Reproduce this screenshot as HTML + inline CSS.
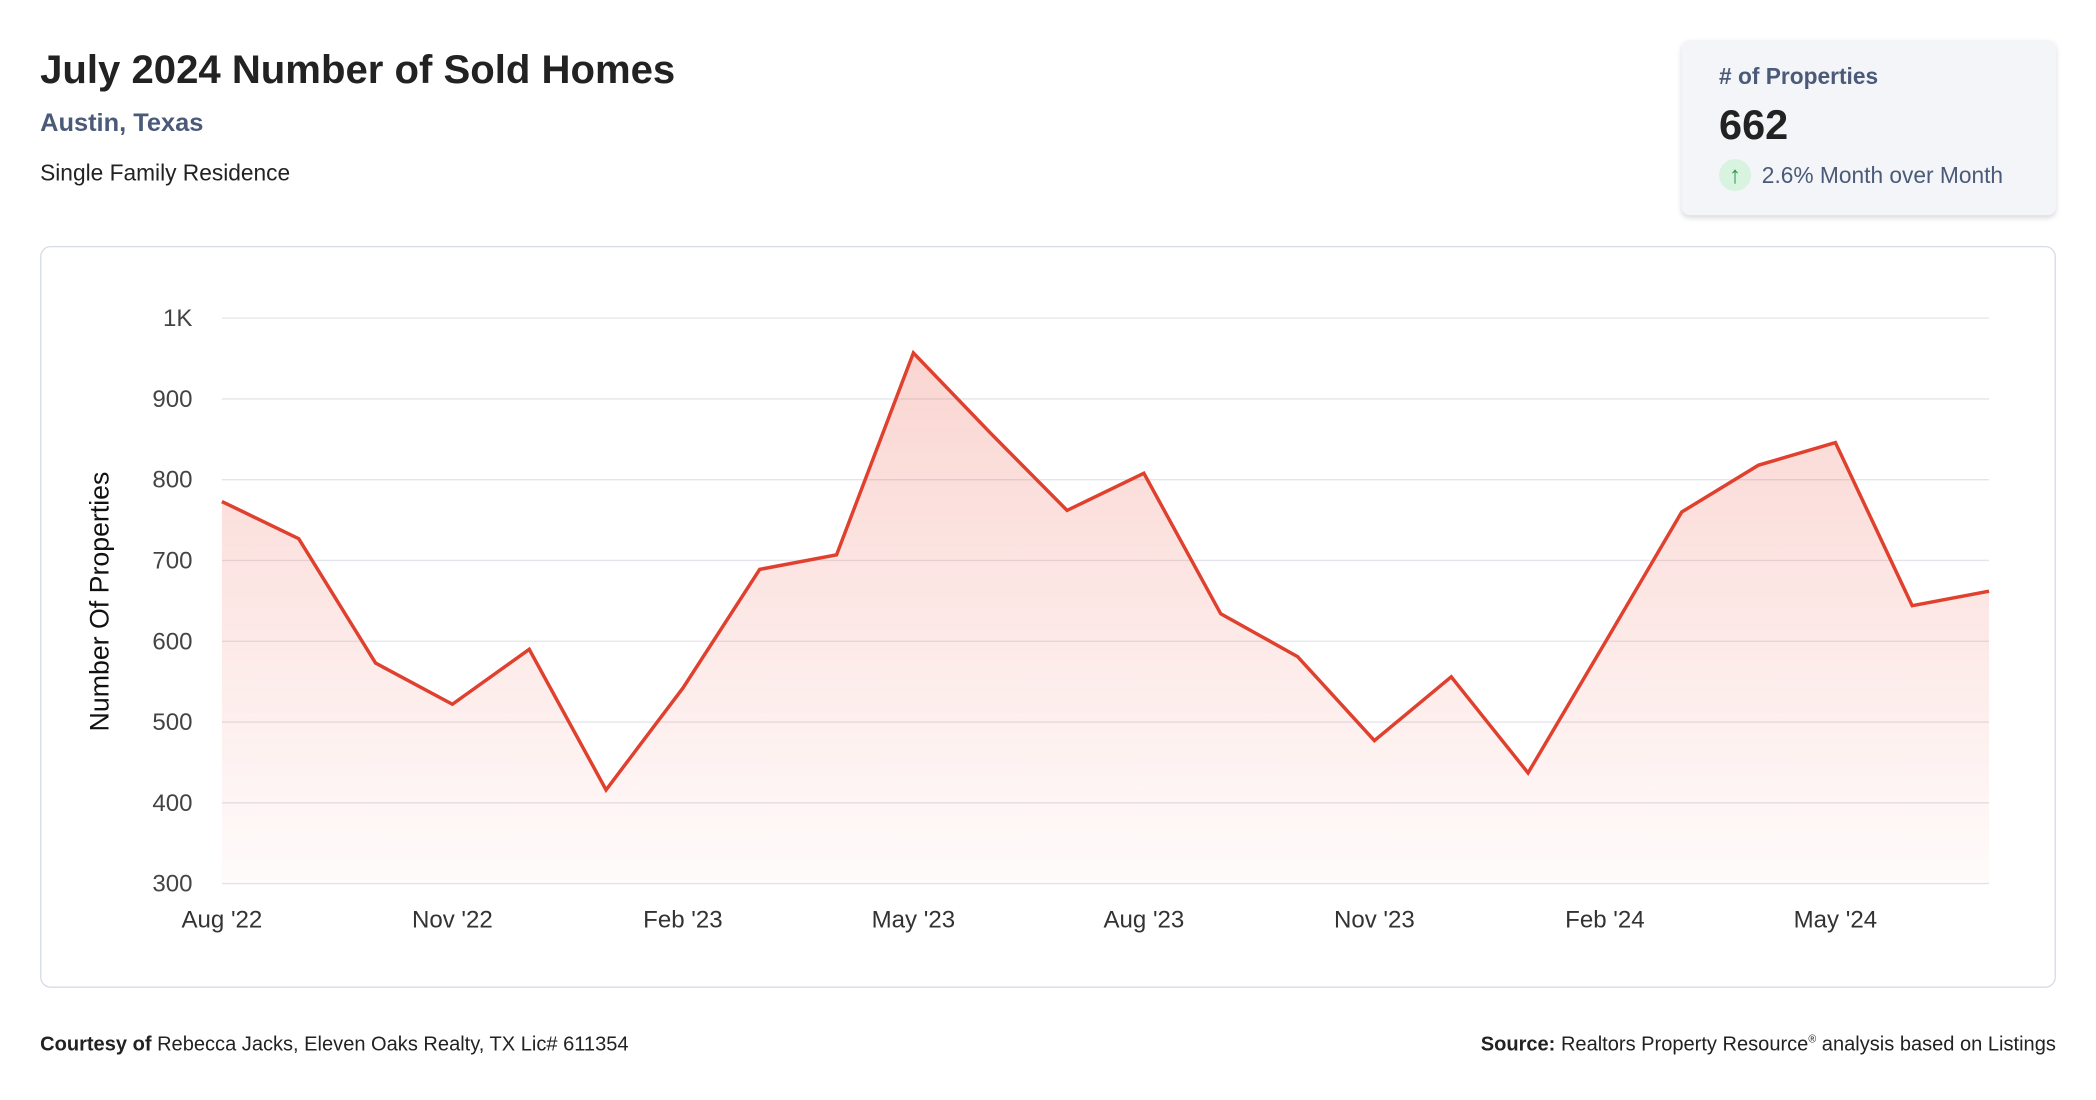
<!DOCTYPE html>
<html><head><meta charset="utf-8">
<style>
html,body{margin:0;padding:0;background:#fff;width:2096px;height:1100px;overflow:hidden}
#root{position:absolute;left:0;top:0;width:1568px;height:823px;transform:scale(1.33673);transform-origin:0 0;font-family:"Liberation Sans",sans-serif;color:#222}
.abs{position:absolute}
</style></head><body>
<div id="root">
  <div class="abs" style="left:30px;top:36px;font-size:30px;font-weight:bold;color:#222">July 2024 Number of Sold Homes</div>
  <div class="abs" style="left:30px;top:82px;font-size:19px;font-weight:bold;color:#4a5a78">Austin, Texas</div>
  <div class="abs" style="left:30px;top:120px;font-size:17px;color:#222">Single Family Residence</div>

  <div class="abs" style="left:1258px;top:30px;width:280px;height:131px;background:#f4f5f8;border-radius:6px;box-shadow:0 2px 4px rgba(0,0,0,0.15)">
    <div class="abs" style="left:28px;top:18px;font-size:17px;font-weight:bold;color:#4a5a78"># of Properties</div>
    <div class="abs" style="left:28px;top:46px;font-size:31px;font-weight:bold;color:#222">662</div>
    <div class="abs" style="left:28px;top:89px;width:24px;height:24px;border-radius:12px;background:#d8f3e0;color:#2a9a4a;font-size:18px;line-height:24px;text-align:center;font-weight:bold">↑</div>
    <div class="abs" style="left:60px;top:92px;font-size:17px;color:#4a5a78">2.6% Month over Month</div>
  </div>

  <div class="abs" style="left:30px;top:184px;width:1506px;height:553px;border:1px solid #d6dbe6;border-radius:8px"></div>

  <svg class="abs" id="chart" style="left:0;top:0" width="1568" height="823"></svg>

  <div class="abs" style="left:30px;top:773px;font-size:15px;color:#222"><b>Courtesy of</b> Rebecca Jacks, Eleven Oaks Realty, TX Lic# 611354</div>
  <div class="abs" style="right:30px;top:773px;font-size:15px;color:#222"><b>Source:</b> Realtors Property Resource<sup style="font-size:8px">®</sup> analysis based on Listings</div>
</div>
<script>
const months = ["Aug '22","Sep '22","Oct '22","Nov '22","Dec '22","Jan '23","Feb '23","Mar '23","Apr '23","May '23","Jun '23","Jul '23","Aug '23","Sep '23","Oct '23","Nov '23","Dec '23","Jan '24","Feb '24","Mar '24","Apr '24","May '24","Jun '24","Jul '24"];
const soldHomes = [773,727,573,522,590,416,542,689,707,957,858,762,808,634,581,477,556,437,598,760,818,846,644,662];
const yTicks = [300,400,500,600,700,800,900,1000];
const yTickLabels = ["300","400","500","600","700","800","900","1K"];
const xTickIndices = [0,3,6,9,12,15,18,21];

const NS="http://www.w3.org/2000/svg";
const svg=document.getElementById('chart');
const X0=166,X1=1488,Y0=661,Y1=238,VMIN=300,VMAX=1000;
function xs(i){return X0+(X1-X0)*i/(months.length-1);}
function ys(v){return Y0-(v-VMIN)/(VMAX-VMIN)*(Y0-Y1);}
function mk(tag,attrs){const e=document.createElementNS(NS,tag);for(const k in attrs)e.setAttribute(k,attrs[k]);svg.appendChild(e);return e;}

const defs=mk('defs',{});
defs.innerHTML='<linearGradient id="fillGrad" x1="0" y1="0" x2="0" y2="1"><stop offset="0" stop-color="#e8412f" stop-opacity="0.22"/><stop offset="1" stop-color="#e8412f" stop-opacity="0.02"/></linearGradient>';

yTicks.forEach((t,i)=>{
  const g=mk('line',{x1:X0,x2:X1,y1:ys(t),y2:ys(t),stroke:'#e3e5ea','stroke-width':1});
  
  
  const l=mk('text',{x:144,y:ys(t)+6,'text-anchor':'end','font-size':18,fill:'#444','font-family':'Liberation Sans, sans-serif'});
  l.textContent=yTickLabels[i];
  
  
});
xTickIndices.forEach(i=>{
  const l=mk('text',{x:xs(i),y:694,'text-anchor':'middle','font-size':18,fill:'#333','font-family':'Liberation Sans, sans-serif'});
  l.textContent=months[i];
  
  
});
const yt=mk('text',{x:0,y:0,transform:'translate(81,450) rotate(-90)','text-anchor':'middle','font-size':20,fill:'#111','font-family':'Liberation Sans, sans-serif'});
yt.textContent='Number Of Properties';



let pts=soldHomes.map((v,i)=>xs(i)+','+ys(v)).join(' L');
const area=mk('path',{d:'M'+xs(0)+','+Y0+' L'+pts+' L'+xs(soldHomes.length-1)+','+Y0+' Z',fill:'url(#fillGrad)'});


const line=mk('path',{d:'M'+pts,fill:'none',stroke:'#e0402e','stroke-width':2.6,'stroke-linejoin':'miter'});


</script>
</body></html>
